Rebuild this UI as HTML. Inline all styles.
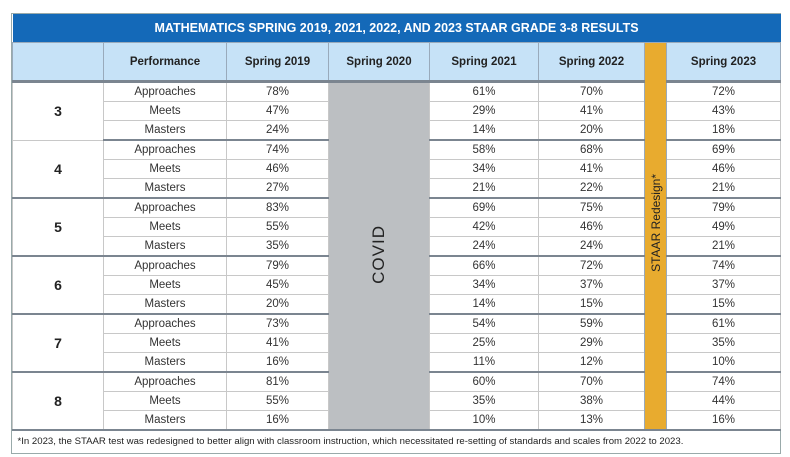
<!DOCTYPE html>
<html><head><meta charset="utf-8"><style>
body{margin:0;background:#fff;width:790px;height:457px;overflow:hidden;font-family:"Liberation Sans",Arial,sans-serif;}
#w{position:absolute;left:11px;top:13px;width:768px;border:1px solid #9aa;}
table{border-collapse:collapse;width:768px;table-layout:fixed;}
td{padding:0;text-align:center;font-size:11.5px;color:#333;border:1px solid #c8c8c8;height:18px;line-height:18px;white-space:nowrap;overflow:hidden}
.t td{background:#1469b8;color:#fff;font-weight:bold;font-size:12.5px;height:28px;border:none;}
.h td{background:#c6e2f7;font-weight:bold;font-size:11.5px;height:37px;color:#222;border-color:#9ab;border-bottom:3px solid #7b8590}
.g{font-weight:bold;font-size:14px;color:#222;background:#fff}
.gs td{border-bottom:2px solid #7b8590}
td.cov{background:#bcbfc2;font-size:17px;color:#222;letter-spacing:1px}
.h td.st{background:#e8ab2f;color:#222;font-size:12px;font-weight:normal;border-bottom:none;vertical-align:middle;padding-bottom:22px}
.v{display:inline-block;writing-mode:vertical-rl;transform:rotate(180deg);white-space:nowrap;line-height:20px}
.f{height:22px;text-align:left;font-size:9.6px;padding-left:5px;color:#222;border:none;border-top:2px solid #7b8590}
</style></head><body>
<div id="w"><table>
<colgroup><col style="width:91px"><col style="width:123px"><col style="width:102px"><col style="width:101px"><col style="width:109px"><col style="width:106px"><col style="width:22px"><col style="width:114px"></colgroup>
<tr class="t"><td colspan="8">MATHEMATICS SPRING 2019, 2021, 2022, AND 2023 STAAR GRADE 3-8 RESULTS</td></tr>
<tr class="h"><td></td><td>Performance</td><td>Spring 2019</td><td>Spring 2020</td><td>Spring 2021</td><td>Spring 2022</td><td class="st" rowspan="19"><span class="v">STAAR Redesign*</span></td><td>Spring 2023</td></tr>
<tr><td class="g" rowspan="3">3</td><td>Approaches</td><td>78%</td><td class="cov" rowspan="18"><span class="v">COVID</span></td><td>61%</td><td>70%</td><td>72%</td></tr>
<tr><td>Meets</td><td>47%</td><td>29%</td><td>41%</td><td>43%</td></tr>
<tr class="gs"><td>Masters</td><td>24%</td><td>14%</td><td>20%</td><td>18%</td></tr>
<tr><td class="g" rowspan="3" style="border-bottom:2px solid #7b8590">4</td><td>Approaches</td><td>74%</td><td>58%</td><td>68%</td><td>69%</td></tr>
<tr><td>Meets</td><td>46%</td><td>34%</td><td>41%</td><td>46%</td></tr>
<tr class="gs"><td>Masters</td><td>27%</td><td>21%</td><td>22%</td><td>21%</td></tr>
<tr><td class="g" rowspan="3" style="border-bottom:2px solid #7b8590">5</td><td>Approaches</td><td>83%</td><td>69%</td><td>75%</td><td>79%</td></tr>
<tr><td>Meets</td><td>55%</td><td>42%</td><td>46%</td><td>49%</td></tr>
<tr class="gs"><td>Masters</td><td>35%</td><td>24%</td><td>24%</td><td>21%</td></tr>
<tr><td class="g" rowspan="3" style="border-bottom:2px solid #7b8590">6</td><td>Approaches</td><td>79%</td><td>66%</td><td>72%</td><td>74%</td></tr>
<tr><td>Meets</td><td>45%</td><td>34%</td><td>37%</td><td>37%</td></tr>
<tr class="gs"><td>Masters</td><td>20%</td><td>14%</td><td>15%</td><td>15%</td></tr>
<tr><td class="g" rowspan="3" style="border-bottom:2px solid #7b8590">7</td><td>Approaches</td><td>73%</td><td>54%</td><td>59%</td><td>61%</td></tr>
<tr><td>Meets</td><td>41%</td><td>25%</td><td>29%</td><td>35%</td></tr>
<tr class="gs"><td>Masters</td><td>16%</td><td>11%</td><td>12%</td><td>10%</td></tr>
<tr><td class="g" rowspan="3">8</td><td>Approaches</td><td>81%</td><td>60%</td><td>70%</td><td>74%</td></tr>
<tr><td>Meets</td><td>55%</td><td>35%</td><td>38%</td><td>44%</td></tr>
<tr><td>Masters</td><td>16%</td><td>10%</td><td>13%</td><td>16%</td></tr>
<tr><td class="f" colspan="8">*In 2023, the STAAR test was redesigned to better align with classroom instruction, which necessitated re-setting of standards and scales from 2022 to 2023.</td></tr>
</table></div>
</body></html>
